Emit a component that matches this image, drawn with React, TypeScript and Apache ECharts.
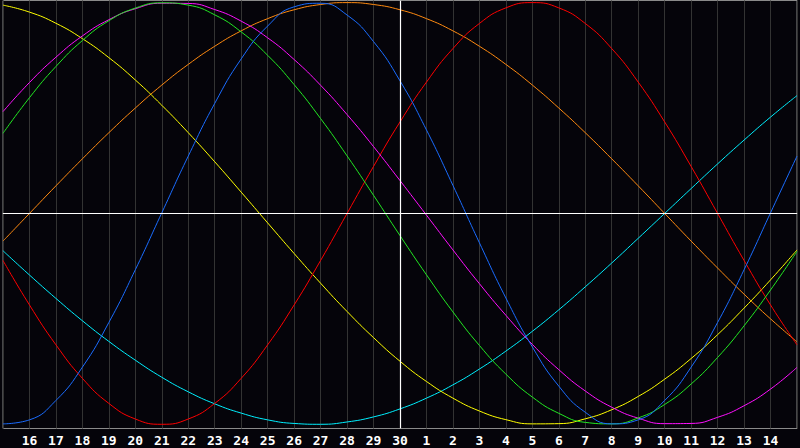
import { useEffect, useRef } from "react";
import * as echarts from "echarts";

// days shown, from the 15th through the 30th and on to the 15th of next month
const DAYS = [
  "15", "16", "17", "18", "19", "20", "21", "22", "23", "24", "25", "26", "27", "28", "29", "30",
  "1", "2", "3", "4", "5", "6", "7", "8", "9", "10", "11", "12", "13", "14", "15",
];

// cycle values in percent, one per day
const PHYSICAL = [-99.8, -97.9, -88.7, -72.9, -51.7, -26.7, 0.3, 27.2, 52.2, 73.3, 88.9, 98.0, 99.7, 94.1, 81.5, 62.9, 39.6, 13.3, -13.9, -40.1, -63.3, -81.9, -94.3, -99.8, -97.9, -88.7, -72.9, -51.7, -26.7, 0.3, 27.2];
const EMOTIONAL = [-22.3, -43.4, -62.3, -78.2, -90.1, -97.5, -100, -97.5, -90.1, -78.2, -62.3, -43.4, -22.3, 0, 22.3, 43.4, 62.3, 78.2, 90.1, 97.5, 100, 97.5, 90.1, 78.2, 62.3, 43.4, 22.3, 0, -22.3, -43.4, -62.3];
const INTELLECTUAL = [38.0, 54.9, 69.7, 82.0, 91.4, 97.4, 99.9, 98.8, 94.2, 86.1, 75.0, 61.1, 45.0, 27.3, 8.6, -10.5, -29.1, -46.7, -62.6, -76.2, -87.1, -94.8, -99.1, -99.8, -97.0, -90.6, -80.9, -68.3, -53.3, -36.3, -18.0];
const INTUITIVE = [48.3, 62.1, 74.1, 84.2, 91.9, 97.1, 99.7, 99.6, 96.7, 91.2, 83.3, 73.0, 60.8, 46.9, 31.7, 15.6, -0.8, -17.3, -33.3, -48.3, -62.1, -74.1, -84.2, -91.9, -97.1, -99.7, -99.6, -96.7, -91.2, -83.3, -73.0];
const AESTHETIC = [98.8, 95.5, 90.2, 82.9, 73.9, 63.3, 51.3, 38.3, 24.5, 10.1, -4.5, -19.0, -33.1, -46.5, -58.9, -70.1, -79.7, -87.6, -93.7, -97.8, -99.8, -99.7, -97.4, -93.1, -86.8, -78.6, -68.8, -57.5, -44.9, -31.5, -17.3];
const AWARENESS = [-13.1, 0, 13.1, 25.9, 38.3, 50, 60.9, 70.7, 79.3, 86.6, 92.4, 96.6, 99.1, 100, 99.1, 96.6, 92.4, 86.6, 79.3, 70.7, 60.9, 50, 38.3, 25.9, 13.1, 0, -13.1, -25.9, -38.3, -50, -60.9];
const SPIRITUAL = [-17.7, -29.2, -40.3, -50.9, -60.7, -69.6, -77.7, -84.6, -90.3, -94.7, -97.9, -99.6, -100, -98.9, -96.5, -92.7, -87.6, -81.3, -73.8, -65.3, -55.9, -45.7, -34.8, -23.5, -11.8, 0, 11.8, 23.5, 34.8, 45.7, 55.9];

const CYCLES = [
  { name: "Spiritual", data: SPIRITUAL, color: "#00f0ff" },
  { name: "Awareness", data: AWARENESS, color: "#ff8a10" },
  { name: "Aesthetic", data: AESTHETIC, color: "#ffff00" },
  { name: "Emotional", data: EMOTIONAL, color: "#ff0000" },
  { name: "Intuitive", data: INTUITIVE, color: "#ff10ff" },
  { name: "Intellectual", data: INTELLECTUAL, color: "#22e822" },
  { name: "Physical", data: PHYSICAL, color: "#1a6cff" },
];

export default function App() {
  const ref = useRef<HTMLDivElement>(null);
  useEffect(() => {
    document.body.style.margin = "0";
    document.body.style.background = "#05040a";
    if (!ref.current) return;
    const chart = echarts.init(ref.current, undefined, { renderer: "svg" });
    const series: any[] = CYCLES.map((c, i) => ({
      type: "line",
      name: c.name,
      data: c.data,
      smooth: true,
      showSymbol: false,
      lineStyle: { color: c.color, width: 1 },
      itemStyle: { color: c.color },
      z: 3,
      ...(i === 0
        ? {
            markLine: {
              silent: true,
              symbol: "none",
              label: { show: false },
              lineStyle: { color: "#ffffff", width: 1.2, type: "solid" },
              data: [{ xAxis: "30" }, { yAxis: 0 }],
            },
          }
        : {}),
    }));
    chart.setOption({
      animation: false,
      backgroundColor: "#05040a",
      grid: {
        left: 0.5,
        right: 0.5,
        top: 0.5,
        bottom: 19.5,
        show: true,
        borderColor: "#8a8a8a",
        borderWidth: 1,
        backgroundColor: "transparent",
      },
      xAxis: {
        type: "category",
        data: DAYS,
        boundaryGap: false,
        axisLine: { show: true, lineStyle: { color: "#8a8a8a", width: 1 } },
        axisTick: { show: false },
        splitLine: { show: true, lineStyle: { color: "#333333", width: 1 } },
        axisLabel: {
          interval: 0,
          color: "#ffffff",
          fontFamily: "DejaVu Sans Mono",
          fontWeight: "bold",
          fontSize: 13,
          margin: 5,
          formatter: (v: string, i: number) => (i === 0 || i === DAYS.length - 1 ? "" : v),
        },
      },
      yAxis: {
        type: "value",
        min: -102,
        max: 101,
        show: false,
        splitLine: { show: false },
      },
      series,
    });
    return () => chart.dispose();
  }, []);
  return <div ref={ref} style={{ width: 800, height: 448 }} />;
}
